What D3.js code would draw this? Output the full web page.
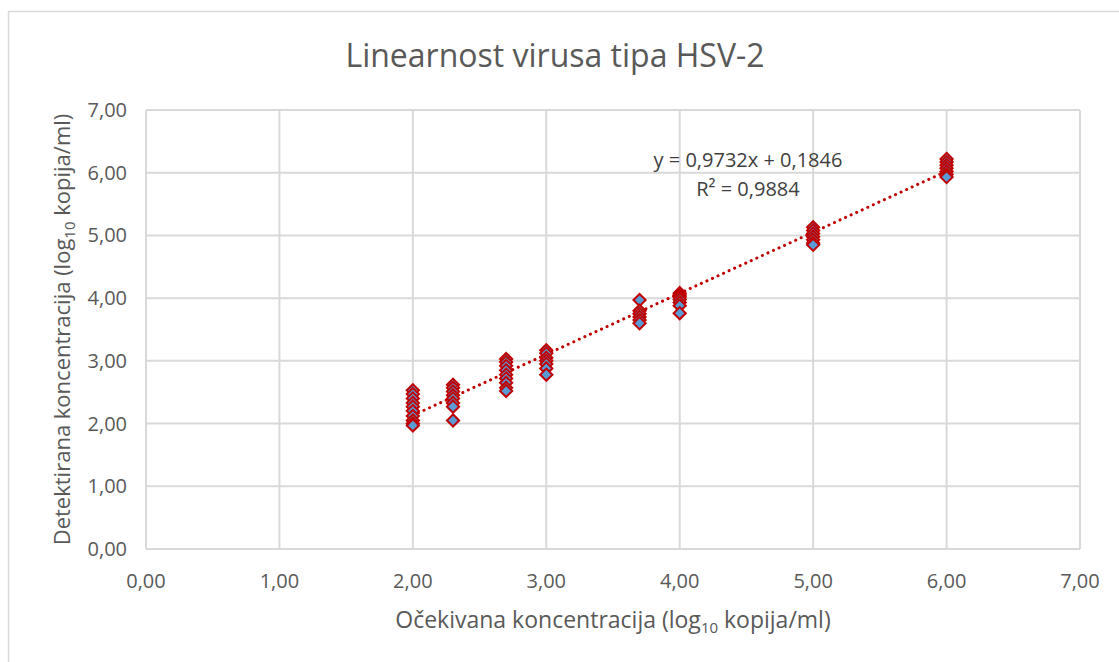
<!DOCTYPE html>
<html>
<head>
<meta charset="utf-8">
<script src="https://cdn.jsdelivr.net/npm/d3@7"></script>
<style>
  body { margin: 0; background: #fff; }
  text { font-family: "Open Sans", "Noto Sans", sans-serif; fill: #595959; }
</style>
</head>
<body>
<div id="chart"></div>
<script>
// expected concentrations (log10 copies/ml), one per dilution level
var levels = [2.0, 2.301, 2.699, 3.0, 3.699, 4.0, 5.0, 6.0];

// detected concentrations for each level
var detected = [
    [2.53, 2.47, 2.40, 2.33, 2.27, 2.20, 2.12, 2.05, 2.00, 1.97],
    [2.62, 2.57, 2.51, 2.45, 2.40, 2.33, 2.27, 2.05],
    [3.03, 2.98, 2.92, 2.85, 2.78, 2.72, 2.65, 2.57, 2.52],
    [3.17, 3.12, 3.05, 3.00, 2.95, 2.88, 2.78],
    [3.97, 3.80, 3.75, 3.70, 3.65, 3.60],
    [4.08, 4.05, 4.02, 3.98, 3.93, 3.88, 3.76],
    [5.13, 5.08, 5.03, 4.98, 4.93, 4.88, 4.85],
    [6.22, 6.17, 6.12, 6.07, 6.02, 5.97, 5.93]
];

var xTicks = [0, 1, 2, 3, 4, 5, 6, 7];
var yTicks = [0, 1, 2, 3, 4, 5, 6, 7];

var slope = 0.9732, intercept = 0.1846;
var eqText = "y = 0,9732x + 0,1846";
var r2Text = "R² = 0,9884";

var points = [];
levels.forEach(function (lv, i) {
    detected[i].forEach(function (v) { points.push({x: lv, y: v}); });
});

var W = 1119, H = 662;
var pLeft = 146, pRight = 1080, pTop = 110, pBottom = 549;

var svg = d3.select("#chart").append("svg").attr("width", W).attr("height", H);

// outer chart frame
svg.append("rect").attr("x", 8.5).attr("y", 11.5).attr("width", 1200).attr("height", 700)
    .attr("fill", "none").attr("stroke", "#D9D9D9").attr("stroke-width", 1.5);

var x = d3.scaleLinear().domain([0, 7]).range([pLeft, pRight]);
var y = d3.scaleLinear().domain([0, 7]).range([pBottom, pTop]);

var fmt = function (d) { return d3.format(".2f")(d).replace(".", ","); };

// gridlines
svg.append("g").selectAll("line").data(yTicks).enter().append("line")
    .attr("x1", pLeft).attr("x2", pRight)
    .attr("y1", function (d) { return y(d); }).attr("y2", function (d) { return y(d); })
    .attr("stroke", "#D9D9D9").attr("stroke-width", 2);
svg.append("g").selectAll("line").data(xTicks).enter().append("line")
    .attr("y1", pTop).attr("y2", pBottom)
    .attr("x1", function (d) { return x(d); }).attr("x2", function (d) { return x(d); })
    .attr("stroke", "#D9D9D9").attr("stroke-width", 2);

// tick labels
svg.append("g").selectAll("text").data(yTicks).enter().append("text")
    .attr("x", 127).attr("y", function (d) { return y(d); })
    .attr("dy", "0.35em").attr("text-anchor", "end")
    .style("font-size", "20px").text(fmt);
svg.append("g").selectAll("text").data(xTicks).enter().append("text")
    .attr("x", function (d) { return x(d); }).attr("y", 588)
    .attr("text-anchor", "middle")
    .style("font-size", "20px").text(fmt);

// trendline
var xr = d3.extent(levels);
svg.append("line")
    .attr("x1", x(xr[0])).attr("y1", y(slope * xr[0] + intercept))
    .attr("x2", x(xr[1])).attr("y2", y(slope * xr[1] + intercept))
    .attr("stroke", "#C00000").attr("stroke-width", 3)
    .attr("stroke-dasharray", "0.1,6").attr("stroke-linecap", "round");

// markers
var diamond = d3.symbol().type(d3.symbolDiamond2).size(95);
svg.append("g").selectAll("path").data(points).enter().append("path")
    .attr("d", diamond)
    .attr("transform", function (d) { return "translate(" + x(d.x) + "," + y(d.y) + ")"; })
    .attr("fill", "#5B9BD5").attr("stroke", "#C00000").attr("stroke-width", 2);

// title
svg.append("text").attr("x", 555).attr("y", 67).attr("text-anchor", "middle")
    .style("font-size", "32px").text("Linearnost virusa tipa HSV-2");

// equation label
svg.append("text").attr("x", 748).attr("y", 167).attr("text-anchor", "middle")
    .style("font-size", "20px").style("fill", "#404040").text(eqText);
svg.append("text").attr("x", 748).attr("y", 196).attr("text-anchor", "middle")
    .style("font-size", "20px").style("fill", "#404040").text(r2Text);

// axis titles
function axisTitle(el, before, after) {
    el.append("tspan").text(before);
    el.append("tspan").attr("dy", 5).style("font-size", "15px").text("10");
    el.append("tspan").attr("dy", -5).text(after);
}
var xt = svg.append("text").attr("x", (pLeft + pRight) / 2).attr("y", 628)
    .attr("text-anchor", "middle").style("font-size", "23px");
axisTitle(xt, "Očekivana koncentracija (log", " kopija/ml)");

var yt = svg.append("text")
    .attr("transform", "translate(70," + (pTop + pBottom) / 2 + ") rotate(-90)")
    .attr("text-anchor", "middle").style("font-size", "22px");
axisTitle(yt, "Detektirana koncentracija (log", " kopija/ml)");
</script>
</body>
</html>
